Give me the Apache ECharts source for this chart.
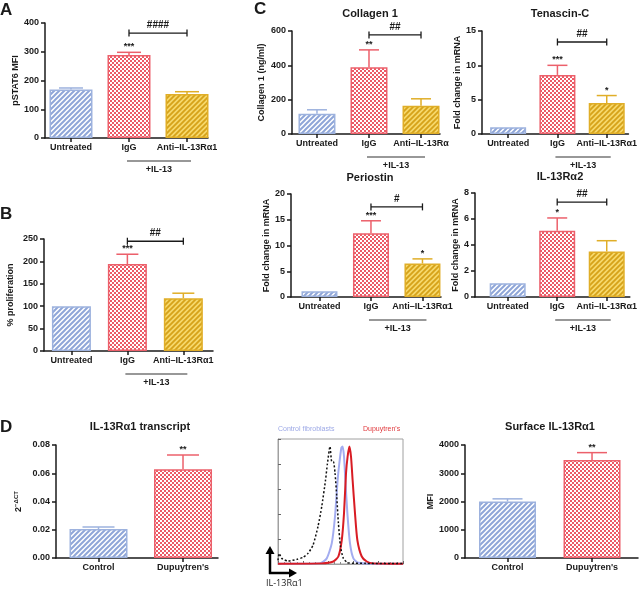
<!DOCTYPE html>
<html><head><meta charset="utf-8">
<script src="https://cdn.jsdelivr.net/npm/echarts@6/dist/echarts.min.js"></script>
<style>html,body{margin:0;padding:0;background:#fff}#c{width:640px;height:590px}</style>
</head><body><div id="c"></div>
<script>
// ---------- DATA ----------
const catsTreat = ['Untreated', 'IgG', 'Anti\u2013IL-13R\u03b11'];
const catsCollagen = ['Untreated', 'IgG', 'Anti\u2013IL-13R\u03b1'];
const catsD = ['Control', "Dupuytren's"];

const pstat6 = [169, 289, 153];
const pstat6Err = [5, 9, 8];
const prolif = [100, 194, 118];
const prolifErr = [0, 22, 11];
const collagen = [118, 389, 164];
const collagenErr = [23, 101, 41];
const tenascin = [1.0, 8.6, 4.5];
const tenascinErr = [0, 1.4, 1.1];
const periostin = [1.1, 12.4, 6.5];
const periostinErr = [0, 2.4, 0.9];
const il13ra2 = [1.05, 5.1, 3.5];
const il13ra2Err = [0, 0.98, 0.83];
const transcript = [0.0205, 0.0628];
const transcriptErr = [0.0014, 0.0102];
const surface = [2000, 3470];
const surfaceErr = [94, 260];

const starsA = ['', '***', ''];
const starsB = ['', '***', ''];
const starsCol = ['', '**', ''];
const starsTen = ['', '***', '*'];
const starsPer = ['', '***', '*'];
const starsIL = ['', '*', ''];
const starsTr = ['', '**'];
const starsSurf = ['', '**'];

// significance brackets: [from category, to category, value level, label]
const sigA = [1, 2, 365, '####'];
const sigB = [1, 2, 245, '##'];
const sigCol = [1, 2, 577, '##'];
const sigTen = [1, 2, 13.4, '##'];
const sigPer = [1, 2, 17.5, '#'];
const sigIL = [1, 2, 7.3, '##'];

// flow cytometry histograms (x: fluorescence, arbitrary 0-100; y: % of max)
const histIsotype = [[0,3],[1,8.5],[3,4.5],[8,2.4],[15,3.7],[20,5.3],[24,8.5],[28,15],[32,30],[35,46],[38,67],[39.5,80],[41.6,94],[43,82],[44.3,82],[45.6,73],[47,54],[48.3,33],[50,14],[52.3,4.5],[56,1],[70,0.5],[100,0.5]];
const histControl = [[0,0.3],[33.6,0.5],[39,4.5],[43,16.5],[45.6,38],[47.7,67],[49,80],[50.7,93],[51.7,94],[52.8,86],[53.9,67],[55.5,40.5],[57.6,16.5],[60.3,4.5],[64.3,1],[80,0.3],[100,0.3]];
const histDupuytren = [[0,0.3],[35,0.5],[44.3,2],[48.3,6],[51,19],[52.8,40.5],[54.4,72.5],[55.7,86],[57.1,94],[58.4,86],[59.7,67],[61.6,40.5],[63.5,19],[67,6],[71,2],[76,0.5],[90,0.3],[100,0.3]];

// ---------- STYLE ----------
const FONT = 'Liberation Sans';
const INK = '#1a1a1a';
function makeHatch(bg, fg, s, lw) {
  const c = document.createElement('canvas'); c.width = s; c.height = s;
  const g = c.getContext('2d');
  g.fillStyle = bg; g.fillRect(0, 0, s, s);
  g.strokeStyle = fg; g.lineWidth = lw;
  g.beginPath();
  g.moveTo(-1, s + 1); g.lineTo(s + 1, -1);
  g.moveTo(-1, 1); g.lineTo(1, -1);
  g.moveTo(s - 1, s + 1); g.lineTo(s + 1, s - 1);
  g.stroke();
  return c;
}
function makeChecker(a, b, cell) {
  const c = document.createElement('canvas'); c.width = cell * 2; c.height = cell * 2;
  const g = c.getContext('2d');
  g.fillStyle = a; g.fillRect(0, 0, cell * 2, cell * 2);
  g.fillStyle = b; g.fillRect(0, 0, cell, cell); g.fillRect(cell, cell, cell, cell);
  return c;
}
const fillBlue = {image: makeHatch('#ffffff', '#8fa6d8', 5, 2), repeat: 'repeat'};
const fillRed = {image: makeChecker('#ec5a66', '#ffffff', 2), repeat: 'repeat'};
const fillYellow = {image: makeHatch('#f6d86c', '#d6a219', 5, 1.8), repeat: 'repeat'};
const treatFill = [fillBlue, fillRed, fillYellow];
const treatBorder = ['#9db2de', '#ec606b', '#e0ae28'];
const dFill = [fillBlue, fillRed];
const dBorder = ['#9db2de', '#ec606b'];

// ---------- PANELS (layout) ----------
const panels = [
  {cats: catsTreat, vals: pstat6, errs: pstat6Err, stars: starsA, sig: sigA, group: true,
   grid: [45, 23, 163, 115], xr: [-0.448, 2.362], ymax: 400, yint: 100, bw: 43,
   yname: 'pSTAT6 MFI', gap: 25, fills: treatFill, borders: treatBorder},
  {cats: catsTreat, vals: prolif, errs: prolifErr, stars: starsB, sig: sigB, group: true,
   grid: [44, 239, 169, 112], xr: [-0.49, 2.53], ymax: 250, yint: 50, bw: 39,
   yname: '% proliferation', gap: 29, fills: treatFill, borders: treatBorder},
  {cats: catsCollagen, vals: collagen, errs: collagenErr, stars: starsCol, sig: sigCol, group: true,
   grid: [292, 31, 148, 103], xr: [-0.48, 2.365], ymax: 600, yint: 200, bw: 37,
   yname: 'Collagen 1 (ng/ml)', gap: 26, fills: treatFill, borders: treatBorder},
  {cats: catsTreat, vals: tenascin, errs: tenascinErr, stars: starsTen, sig: sigTen, group: true,
   grid: [482, 31, 154, 103], xr: [-0.53, 2.44], ymax: 15, yint: 5, bw: 36,
   yname: 'Fold change in mRNA', gap: 20, fills: treatFill, borders: treatBorder},
  {cats: catsTreat, vals: periostin, errs: periostinErr, stars: starsPer, sig: sigPer, group: true,
   grid: [291, 194, 150, 103], xr: [-0.553, 2.36], ymax: 20, yint: 5, bw: 36,
   yname: 'Fold change in mRNA', gap: 19, fills: treatFill, borders: treatBorder},
  {cats: catsTreat, vals: il13ra2, errs: il13ra2Err, stars: starsIL, sig: sigIL, group: true,
   grid: [475, 193, 161, 104], xr: [-0.66, 2.466], ymax: 8, yint: 2, bw: 36,
   yname: 'Fold change in mRNA', gap: 11, fills: treatFill, borders: treatBorder},
  {cats: catsD, vals: transcript, errs: transcriptErr, stars: starsTr, sig: null, group: false,
   grid: [56, 445, 162, 113], xr: [-0.503, 1.414], ymax: 0.08, yint: 0.02, bw: 58, fmt: 2,
   yname: '{b|2}{s|\u2212\u0394CT}', gap: 32, fills: dFill, borders: dBorder},
  {cats: catsD, vals: surface, errs: surfaceErr, stars: starsSurf, sig: null, group: false,
   grid: [465, 445, 173, 113], xr: [-0.503, 1.544], ymax: 4000, yint: 1000, bw: 57,
   yname: 'MFI', gap: 21, fills: dFill, borders: dBorder}
];

const grids = [], xAxes = [], yAxes = [], series = [];
const axisLineStyle = {color: INK, width: 1.5};

panels.forEach((p, k) => {
  grids.push({left: p.grid[0], top: p.grid[1], width: p.grid[2], height: p.grid[3]});
  const idx = p.cats.map((_, i) => i);
  xAxes.push({
    gridIndex: k, type: 'value', min: p.xr[0], max: p.xr[1],
    axisLine: {show: true, onZero: false, lineStyle: axisLineStyle},
    axisTick: {show: true, customValues: idx, length: 4, lineStyle: axisLineStyle},
    axisLabel: {show: true, customValues: idx, formatter: v => p.cats[Math.round(v)],
      fontFamily: FONT, fontWeight: 'bold', fontSize: 9, color: INK, margin: 5},
    splitLine: {show: false}
  });
  yAxes.push({
    gridIndex: k, type: 'value', min: 0, max: p.ymax, interval: p.yint,
    axisLine: {show: true, onZero: false, lineStyle: axisLineStyle},
    axisTick: {show: true, length: 4, lineStyle: axisLineStyle},
    axisLabel: {fontFamily: FONT, fontWeight: 'bold', fontSize: 9, color: INK, margin: 6,
      formatter: p.fmt ? (v => v.toFixed(p.fmt)) : (v => String(Math.round(v)))},
    splitLine: {show: false},
    name: p.yname, nameLocation: 'middle', nameRotate: 90, nameGap: p.gap,
    nameTextStyle: {fontFamily: FONT, fontWeight: 'bold', fontSize: 9, color: INK,
      rich: {b: {fontFamily: FONT, fontWeight: 'bold', fontSize: 9, color: INK},
             s: {fontFamily: FONT, fontWeight: 'bold', fontSize: 6, color: INK, padding: [0, 0, 5, 0]}}}
  });
  series.push({
    type: 'bar', xAxisIndex: k, yAxisIndex: k, barWidth: p.bw, animation: false, silent: true,
    data: p.vals.map((v, i) => ({value: [i, v], itemStyle: {color: p.fills[i], borderColor: p.borders[i], borderWidth: 1.5}}))
  });
  const capHalf = Math.round(p.bw * 0.27);
  series.push({
    type: 'custom', xAxisIndex: k, yAxisIndex: k, animation: false, silent: true, z: 5,
    data: p.vals.map((v, i) => [i, v, p.errs[i]]),
    renderItem: (params, api) => {
      const i = api.value(0), v = api.value(1), e = api.value(2);
      const col = p.borders[i];
      const top = api.coord([i, v + e]);
      const base = api.coord([i, v]);
      const ch = [];
      if (e > 0) {
        ch.push({type: 'line', shape: {x1: base[0], y1: base[1], x2: top[0], y2: top[1]}, style: {stroke: col, lineWidth: 1.5}});
        ch.push({type: 'line', shape: {x1: top[0] - capHalf, y1: top[1], x2: top[0] + capHalf, y2: top[1]}, style: {stroke: col, lineWidth: 1.5}});
      }
      const s = p.stars[i];
      if (s) ch.push({type: 'text', style: {text: s, x: top[0], y: top[1] - 1, align: 'center', verticalAlign: 'bottom',
        font: 'bold 9px "' + FONT + '"', fill: INK}});
      return {type: 'group', children: ch};
    }
  });
  if (p.sig) {
    series.push({
      type: 'custom', xAxisIndex: k, yAxisIndex: k, animation: false, silent: true, z: 5,
      data: [p.sig.slice(0, 3)],
      renderItem: (params, api) => {
        const a = api.coord([api.value(0), api.value(2)]);
        const b = api.coord([api.value(1), api.value(2)]);
        const st = {stroke: INK, lineWidth: 1.3};
        return {type: 'group', children: [
          {type: 'line', shape: {x1: a[0], y1: a[1], x2: b[0], y2: b[1]}, style: st},
          {type: 'line', shape: {x1: a[0], y1: a[1] - 3.5, x2: a[0], y2: a[1] + 3.5}, style: st},
          {type: 'line', shape: {x1: b[0], y1: b[1] - 3.5, x2: b[0], y2: b[1] + 3.5}, style: st},
          {type: 'text', style: {text: p.sig[3], x: (a[0] + b[0]) / 2, y: a[1] - 3, align: 'center', verticalAlign: 'bottom',
            font: 'bold 10px "' + FONT + '"', fill: INK}}
        ]};
      }
    });
  }
  if (p.group) {
    series.push({
      type: 'custom', xAxisIndex: k, yAxisIndex: k, animation: false, silent: true,
      data: [[1, 2]],
      renderItem: (params, api) => {
        const a = api.coord([api.value(0), 0]);
        const b = api.coord([api.value(1), 0]);
        const y = a[1] + 23;
        return {type: 'group', children: [
          {type: 'line', shape: {x1: a[0] - 2, y1: y, x2: b[0] + 4, y2: y}, style: {stroke: '#333', lineWidth: 1.2}},
          {type: 'text', style: {text: '+IL-13', x: (a[0] + b[0]) / 2 + 1, y: y + 4, align: 'center', verticalAlign: 'top',
            font: 'bold 9px "' + FONT + '"', fill: INK}}
        ]};
      }
    });
  }
});

// ---------- Flow histogram ----------
const hk = panels.length;
grids.push({left: 278, top: 439, width: 125, height: 125, show: true, borderColor: '#a0a0a0', borderWidth: 1});
xAxes.push({gridIndex: hk, type: 'value', min: 0, max: 100, interval: 20,
  axisLine: {show: true, onZero: false, lineStyle: {color: '#a0a0a0', width: 1}},
  axisTick: {show: true, inside: true, length: 3, lineStyle: {color: '#666'}},
  minorTick: {show: true, splitNumber: 4, length: 2, lineStyle: {color: '#888'}},
  axisLabel: {show: false}, splitLine: {show: false}});
yAxes.push({gridIndex: hk, type: 'value', min: 0, max: 100, interval: 20,
  axisLine: {show: true, onZero: false, lineStyle: {color: '#a0a0a0', width: 1}},
  axisTick: {show: true, inside: true, length: 3, lineStyle: {color: '#666'}},
  axisLabel: {show: false}, splitLine: {show: false}});
series.push({type: 'line', xAxisIndex: hk, yAxisIndex: hk, data: histIsotype, showSymbol: false, smooth: 0.2, animation: false, silent: true,
  lineStyle: {color: '#111', width: 1.5, type: [2, 2]}, z: 4});
series.push({type: 'line', xAxisIndex: hk, yAxisIndex: hk, data: histControl, showSymbol: false, smooth: 0.2, animation: false, silent: true,
  lineStyle: {color: '#a3acf0', width: 2}, z: 3});
series.push({type: 'line', xAxisIndex: hk, yAxisIndex: hk, data: histDupuytren, showSymbol: false, smooth: 0.2, animation: false, silent: true,
  lineStyle: {color: '#d81c24', width: 2}, z: 3});

// ---------- Texts ----------
const T = (text, left, top, size, extra) => ({text, left, top, textStyle: Object.assign({fontFamily: FONT, fontWeight: 'bold', fontSize: size, color: INK}, extra || {})});
const titles = [
  T('A', 0, 2, 17), T('B', 0, 206, 17), T('C', 254, 1, 17), T('D', 0, 419, 17),
  Object.assign(T('Collagen 1', 370, 8, 11), {textAlign: 'center'}),
  Object.assign(T('Tenascin-C', 560, 8, 11), {textAlign: 'center'}),
  Object.assign(T('Periostin', 370, 172, 11), {textAlign: 'center'}),
  Object.assign(T('IL-13R\u03b12', 560, 171, 11), {textAlign: 'center'}),
  Object.assign(T('IL-13R\u03b11 transcript', 140, 421, 11), {textAlign: 'center'}),
  Object.assign(T('Surface IL-13R\u03b11', 550, 421, 11), {textAlign: 'center'}),
  T('Control fibroblasts', 278, 426, 7, {fontWeight: 'normal', color: '#9ca8e6'}),
  T("Dupuytren's", 363, 426, 7, {fontWeight: 'normal', color: '#e0393d'}),
  T('IL-13R\u03b11', 266, 579, 9, {fontWeight: 'normal', color: '#222', fontFamily: 'Open Sans'})
];

const option = {
  backgroundColor: '#ffffff',
  animation: false,
  title: titles.map(t => Object.assign({padding: 0}, t)),
  grid: grids, xAxis: xAxes, yAxis: yAxes, series,
  graphic: [
    {type: 'line', shape: {x1: 270, y1: 574, x2: 270, y2: 553}, style: {stroke: '#000', lineWidth: 2.5}},
    {type: 'polygon', shape: {points: [[265.5, 554], [274.5, 554], [270, 546]]}, style: {fill: '#000'}},
    {type: 'line', shape: {x1: 269, y1: 573, x2: 290, y2: 573}, style: {stroke: '#000', lineWidth: 2.5}},
    {type: 'polygon', shape: {points: [[289, 568.5], [289, 577.5], [297, 573]]}, style: {fill: '#000'}}
  ]
};
const chart = echarts.init(document.getElementById('c'), null, {renderer: 'canvas'});
chart.setOption(option);
</script></body></html>
